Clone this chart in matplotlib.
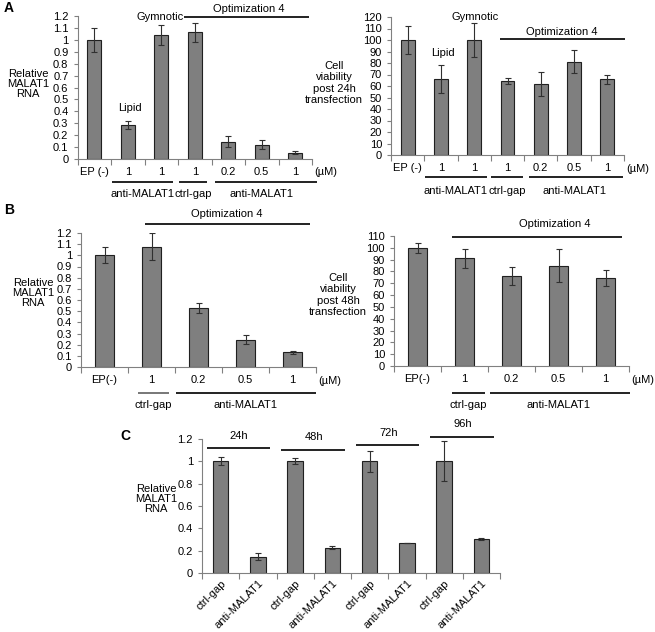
import numpy as np
import matplotlib
matplotlib.use("Agg")
import matplotlib.pyplot as plt
from matplotlib import transforms
from matplotlib.ticker import FuncFormatter

plt.rcParams['font.family'] = ['Liberation Sans', 'DejaVu Sans']
plt.rcParams['font.size'] = 8

# ---- data ----
a_labels = ["EP (-)", "1", "1", "1", "0.2", "0.5", "1"]
a_rna = [1.0, 0.282, 1.042, 1.064, 0.146, 0.12, 0.054]
a_rna_err = [0.1, 0.033, 0.086, 0.08, 0.044, 0.04, 0.012]
a_via = [100, 66, 100, 64, 62, 81, 66]
a_via_err = [12, 12, 15, 2.6, 10.5, 10, 4]

b_labels = ["EP(-)", "1", "0.2", "0.5", "1"]
b_rna = [1.0, 1.077, 0.528, 0.246, 0.132]
b_rna_err = [0.073, 0.123, 0.045, 0.039, 0.014]
b_via = [99.5, 91, 76, 85, 74.7]
b_via_err = [4.2, 7.7, 7.5, 14.3, 6.9]

c_labels = ["ctrl-gap", "anti-MALAT1"] * 4
c_times = ["24h", "48h", "72h", "96h"]
c_rna = [1.0, 0.145, 1.0, 0.228, 1.0, 0.268, 1.0, 0.305]
c_rna_err = [0.035, 0.033, 0.027, 0.01, 0.092, 0.003, 0.18, 0.012]

W, H = 655, 632
fig = plt.figure(figsize=(W / 100, H / 100), dpi=100)


def fy(py):
    return 1 - py / H


def add_ax(l, t, r, b):
    return fig.add_axes([l / W, 1 - b / H, (r - l) / W, (b - t) / H])


def bar_panel(ax, vals, errs, labels, ymax, step, rot=0):
    n = len(vals)
    x = np.arange(n)
    ax.bar(x, vals, 0.42, color="#7f7f7f", edgecolor="#202020", linewidth=0.8,
           yerr=errs, error_kw=dict(ecolor="#303030", elinewidth=0.8,
                                    capsize=2.5, capthick=0.8))
    ax.set_xlim(-0.5, n - 0.5)
    ax.set_ylim(0, ymax)
    ax.set_yticks(np.arange(0, ymax + step / 2, step))
    ax.yaxis.set_major_formatter(FuncFormatter(lambda v, p: "{:g}".format(round(v, 2))))
    ax.set_xticks(x)
    ax.set_xticks(np.arange(-0.5, n), minor=True)
    if rot:
        ax.set_xticklabels(labels, rotation=rot, ha="right", rotation_mode="anchor")
        ax.tick_params(axis="x", which="major", length=0, pad=4)
    else:
        ax.set_xticklabels(labels)
        ax.tick_params(axis="x", which="major", length=0, pad=6)
    ax.tick_params(axis="x", which="minor", length=4, color="#808080", width=0.8)
    ax.tick_params(axis="y", length=3, color="#808080", width=0.8, pad=3.5)
    for s in ["top", "right"]:
        ax.spines[s].set_visible(False)
    for s in ["left", "bottom"]:
        ax.spines[s].set_color("#808080")
        ax.spines[s].set_linewidth(0.8)


def hline(ax, x0, x1, py, lw=1.4, color="#222222"):
    T = transforms.blended_transform_factory(ax.transData, fig.transFigure)
    ax.plot([x0, x1], [fy(py), fy(py)], transform=T, color=color, lw=lw,
            clip_on=False, solid_capstyle="butt")


def label(ax, x, py, s, **kw):
    T = transforms.blended_transform_factory(ax.transData, fig.transFigure)
    ax.text(x, fy(py), s, transform=T, ha="center", va="center", **kw)


def unit(ax, py):
    T = transforms.blended_transform_factory(ax.transAxes, fig.transFigure)
    ax.text(1.01, fy(py), "(µM)", transform=T, ha="left", va="center")


# ---- panel A, left ----
ax = add_ax(77.5, 16, 312, 159)
bar_panel(ax, a_rna, a_rna_err, a_labels, 1.2, 0.1)
label(ax, 1.07, 108, "Lipid")
label(ax, 1.96, 17, "Gymnotic")
hline(ax, 2.68, 6.4, 17)
label(ax, 4.6, 9, "Optimization 4")
hline(ax, 0.53, 2.35, 182)
hline(ax, 2.53, 3.37, 182)
hline(ax, 3.6, 6.66, 182)
label(ax, 1.45, 194, "anti-MALAT1")
label(ax, 2.95, 194, "ctrl-gap")
label(ax, 5.0, 194, "anti-MALAT1")
unit(ax, 172)
fig.text(28 / W, fy(84), "Relative\nMALAT1\nRNA", ha="center", va="center",
         linespacing=1.05)
fig.text(4 / W, fy(8), "A", fontsize=10, fontweight="bold", va="center")

# ---- panel A, right ----
ax = add_ax(391, 17, 624, 155)
bar_panel(ax, a_via, a_via_err, a_labels, 120, 10)
label(ax, 1.06, 53, "Lipid")
label(ax, 2.02, 17, "Gymnotic")
hline(ax, 2.77, 6.53, 39)
label(ax, 4.64, 32, "Optimization 4")
hline(ax, 0.52, 2.38, 177)
hline(ax, 2.5, 3.46, 177)
hline(ax, 3.64, 6.47, 177)
label(ax, 1.45, 191, "anti-MALAT1")
label(ax, 2.98, 191, "ctrl-gap")
label(ax, 5.0, 191, "anti-MALAT1")
unit(ax, 169)
fig.text(334 / W, fy(83), "Cell\nviability\npost 24h\ntransfection", ha="center",
         va="center", linespacing=1.2)

# ---- panel B, left ----
ax = add_ax(81, 233, 316, 367)
bar_panel(ax, b_rna, b_rna_err, b_labels, 1.2, 0.1)
hline(ax, 0.86, 4.37, 224)
label(ax, 2.6, 214, "Optimization 4")
hline(ax, 0.71, 1.37, 393, color="#777777")
hline(ax, 1.52, 4.5, 393)
label(ax, 1.04, 405, "ctrl-gap")
label(ax, 3.0, 405, "anti-MALAT1")
unit(ax, 381)
fig.text(33 / W, fy(293), "Relative\nMALAT1\nRNA", ha="center", va="center",
         linespacing=1.05)
fig.text(4 / W, fy(210), "B", fontsize=10, fontweight="bold", va="center")

# ---- panel B, right ----
ax = add_ax(394, 236, 629, 366)
bar_panel(ax, b_via, b_via_err, b_labels, 110, 10)
hline(ax, 0.73, 4.35, 237)
label(ax, 2.93, 224, "Optimization 4")
hline(ax, 0.73, 1.44, 393)
hline(ax, 1.54, 4.52, 393)
label(ax, 1.08, 405, "ctrl-gap")
label(ax, 3.0, 405, "anti-MALAT1")
unit(ax, 380)
fig.text(338 / W, fy(295), "Cell\nviability\npost 48h\ntransfection", ha="center",
         va="center", linespacing=1.2)

# ---- panel C ----
ax = add_ax(202, 439, 500, 573)
bar_panel(ax, c_rna, c_rna_err, c_labels, 1.2, 0.2, rot=45)
line_y = [448, 450, 445, 437]
text_y = [436, 437, 433, 424]
for k, t in enumerate(c_times):
    hline(ax, 2 * k - 0.37, 2 * k + 1.33, line_y[k])
    label(ax, 2 * k + 0.5, text_y[k], t)
fig.text(156 / W, fy(499), "Relative\nMALAT1\nRNA", ha="center", va="center",
         linespacing=1.05)
fig.text(120 / W, fy(436), "C", fontsize=10, fontweight="bold", va="center")

fig.savefig("out.png", dpi=100)
